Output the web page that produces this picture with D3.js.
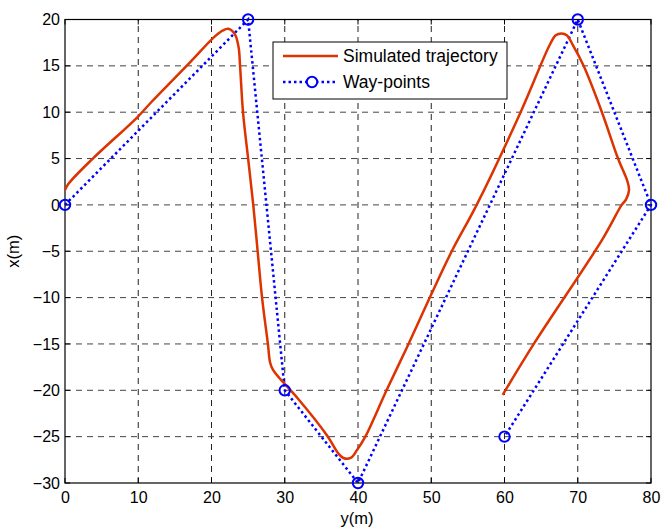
<!DOCTYPE html>
<html><head><meta charset="utf-8">
<script src="https://cdn.jsdelivr.net/npm/d3@7"></script>
<style>body{margin:0;background:#fff}svg{display:block}text{font-family:"Liberation Sans",Arial,sans-serif}</style>
</head><body>
<script>
const xTicks = [0,10,20,30,40,50,60,70,80];
const yTicks = [-30,-25,-20,-15,-10,-5,0,5,10,15,20];
const wayX = [0,25,30,40,70,80,60];
const wayY = [0,20,-20,-30,20,0,-25];
const trajX = [0,0.5,3.8,9.8,11.8,16.6,20.5,21.5,22.3,23.2,23.7,23.9,24.3,25,25.7,26.3,26.9,27.7,28,28.4,29.3,31.7,35.8,37.3,38,39,39.9,41,43.9,46.9,49.8,52.8,56.2,62.2,66.2,67,67.8,68.5,69.3,70.8,73.3,75.5,76.8,77,76.6,76,73.3,64,59.75];
const trajY = [1.6,2.3,5,9.4,11.1,15,18.2,18.8,19,18.4,17,15,10,5,0,-5,-10,-15,-17,-17.8,-18.7,-20.8,-24.9,-26.8,-27.3,-27.3,-26.4,-25,-20,-15,-10,-5,0,10,17.3,18.3,18.5,18.3,17.3,15,10,5,2.5,1.6,0.6,0,-3.8,-15,-20.5];
const legendLabels = ["Simulated trajectory","Way-points"];

const W=661,H=531;
const svg=d3.select("body").append("svg").attr("width",W).attr("height",H);
const x=d3.scaleLinear().domain([0,80]).range([65,651]);
const y=d3.scaleLinear().domain([-30,20]).range([483,19.5]);
const g=svg.append("g");
// grid
g.selectAll(".gx").data(xTicks.slice(1,-1)).enter().append("line")
 .attr("x1",d=>x(d)).attr("x2",d=>x(d)).attr("y1",y(-30)).attr("y2",y(20))
 .attr("stroke","#222").attr("stroke-width",1).attr("stroke-dasharray","6,5");
g.selectAll(".gy").data(yTicks.slice(1,-1)).enter().append("line")
 .attr("y1",d=>y(d)).attr("y2",d=>y(d)).attr("x1",x(0)).attr("x2",x(80))
 .attr("stroke","#444").attr("stroke-width",1).attr("stroke-dasharray","6,5");
// axes
const fs=16;
const ax=d3.axisBottom(x).tickValues(xTicks).tickSize(0).tickPadding(9);
const axG=svg.append("g").attr("transform",`translate(0,${y(-30)})`).call(ax);
axG.select(".domain").remove();
axG.selectAll("text").attr("font-size",fs).attr("fill","#000").attr("font-family","Liberation Sans, Arial");
const ay=d3.axisLeft(y).tickValues(yTicks).tickSize(0).tickPadding(5);
const ayG=svg.append("g").attr("transform",`translate(${x(0)},0)`).call(ay);
ayG.select(".domain").remove();
ayG.selectAll("text").attr("font-size",fs).attr("fill","#000").attr("font-family","Liberation Sans, Arial");
// inner ticks
const tl=5;
xTicks.forEach(v=>{
 svg.append("line").attr("x1",x(v)).attr("x2",x(v)).attr("y1",y(-30)).attr("y2",y(-30)-tl).attr("stroke","#000");
 svg.append("line").attr("x1",x(v)).attr("x2",x(v)).attr("y1",y(20)).attr("y2",y(20)+tl).attr("stroke","#000");
});
yTicks.forEach(v=>{
 svg.append("line").attr("y1",y(v)).attr("y2",y(v)).attr("x1",x(0)).attr("x2",x(0)+tl).attr("stroke","#000");
 svg.append("line").attr("y1",y(v)).attr("y2",y(v)).attr("x1",x(80)).attr("x2",x(80)-tl).attr("stroke","#000");
});
svg.append("rect").attr("x",x(0)).attr("y",y(20)).attr("width",x(80)-x(0)).attr("height",y(-30)-y(20))
 .attr("fill","none").attr("stroke","#000").attr("stroke-width",1.2);
// data
const wp=wayX.map((v,i)=>[v,wayY[i]]);
const tr=trajX.map((v,i)=>[v,trajY[i]]);
const lineL=d3.line().x(d=>x(d[0])).y(d=>y(d[1]));
const lineC=d3.line().x(d=>x(d[0])).y(d=>y(d[1])).curve(d3.curveCatmullRom.alpha(0.5));
svg.append("path").attr("d",lineL(wp)).attr("fill","none").attr("stroke","#0000ff").attr("stroke-width",2.5).attr("stroke-dasharray","2.5,3");
svg.append("path").attr("d",lineC(tr)).attr("fill","none").attr("stroke","#dd3300").attr("stroke-width",2.5).attr("stroke-linejoin","round");
svg.selectAll(".wp").data(wp).enter().append("circle").attr("cx",d=>x(d[0])).attr("cy",d=>y(d[1])).attr("r",5.2)
 .attr("fill","none").attr("stroke","#0000ff").attr("stroke-width",2);
// labels
svg.append("text").attr("x",357).attr("y",524).attr("text-anchor","middle").attr("font-size",16.5).text("y(m)");
svg.append("text").attr("transform",`translate(19,${(y(20)+y(-30))/2}) rotate(-90)`).attr("text-anchor","middle").attr("font-size",16.5).text("x(m)");
// legend
const lg=svg.append("g");
lg.append("rect").attr("x",273).attr("y",42).attr("width",234).attr("height",57).attr("fill","#fff").attr("stroke","#000").attr("stroke-width",1);
lg.append("line").attr("x1",283).attr("x2",338).attr("y1",56).attr("y2",56).attr("stroke","#dd3300").attr("stroke-width",2.5);
lg.append("line").attr("x1",283).attr("x2",338).attr("y1",82).attr("y2",82).attr("stroke","#0000ff").attr("stroke-width",2.5).attr("stroke-dasharray","2.5,3");
lg.append("circle").attr("cx",312).attr("cy",82).attr("r",5.2).attr("fill","#fff").attr("stroke","#0000ff").attr("stroke-width",2);
lg.append("text").attr("x",343).attr("y",62).attr("font-size",17.5).text(legendLabels[0]);
lg.append("text").attr("x",343).attr("y",88).attr("font-size",17.5).text(legendLabels[1]);
</script>
</body></html>
